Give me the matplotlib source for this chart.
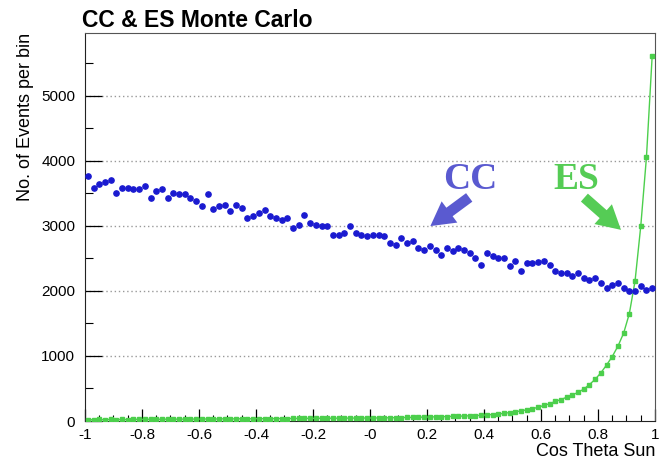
import numpy as np
import matplotlib
matplotlib.use("Agg")
import matplotlib.pyplot as plt
from matplotlib.ticker import MultipleLocator, FixedLocator

plt.rcParams['font.family'] = ['Liberation Sans', 'DejaVu Sans']

# 100 bins in cos(theta_sun), width 0.02
bin_centers = np.round(np.arange(-0.99, 1.0, 0.02), 2)

# charged-current events per bin
cc_counts = [3758, 3580, 3640, 3670, 3700, 3500, 3580, 3580, 3570, 3560,
             3610, 3430, 3530, 3560, 3430, 3500, 3480, 3490, 3430, 3380,
             3300, 3490, 3250, 3300, 3320, 3220, 3323, 3272, 3118, 3144,
             3195, 3246, 3144, 3118, 3092, 3118, 2964, 3015, 3169, 3041,
             3015, 2990, 2990, 2862, 2862, 2887, 2990, 2887, 2862, 2836,
             2862, 2850, 2836, 2733, 2708, 2810, 2733, 2759, 2656, 2631,
             2682, 2631, 2554, 2656, 2605, 2656, 2631, 2580, 2503, 2400,
             2580, 2528, 2503, 2503, 2374, 2451, 2300, 2426, 2426, 2436,
             2451, 2400, 2297, 2272, 2272, 2221, 2272, 2195, 2169, 2195,
             2118, 2041, 2092, 2118, 2041, 1990, 1990, 2067, 2015, 2041]

# elastic-scattering events per bin
es_counts = [22, 20, 24, 21, 25, 23, 24, 22, 26, 25,
             25, 27, 26, 27, 28, 27, 29, 28, 30, 29,
             30, 31, 30, 32, 33, 32, 34, 34, 33, 35,
             36, 35, 37, 37, 38, 38, 39, 40, 40, 41,
             41, 42, 42, 43, 43, 44, 44, 45, 45, 46,
             46, 47, 48, 50, 51, 53, 54, 56, 58, 60,
             62, 64, 66, 69, 71, 74, 77, 80, 84, 88,
             93, 100, 108, 118, 130, 142, 156, 172, 190, 210,
             240, 265, 300, 330, 365, 400, 440, 490, 560, 640,
             740, 860, 990, 1150, 1350, 1650, 2150, 2990, 4050, 5600]

x_major = [-1, -0.8, -0.6, -0.4, -0.2, 0, 0.2, 0.4, 0.6, 0.8, 1]
x_major_labels = ['-1', '-0.8', '-0.6', '-0.4', '-0.2', '-0', '0.2', '0.4', '0.6', '0.8', '1']
y_major = [0, 1000, 2000, 3000, 4000, 5000]

cc_color = '#1a1ad0'
es_color = '#4ccf4c'

fig = plt.figure(figsize=(6.67, 4.65), dpi=100)
ax = fig.add_axes([0.1274, 0.0946, 0.8546, 0.8344])

ax.plot(bin_centers, es_counts, color=es_color, lw=1.0, marker='s', ms=3.2,
        mec=es_color, mfc=es_color, zorder=3)
ax.plot(bin_centers, cc_counts, ls='none', marker='o', ms=3.8,
        mec=cc_color, mfc=cc_color, zorder=4)

ax.set_xlim(-1, 1)
ax.set_ylim(0, 5960)

# ROOT-like axis decorations
ax.xaxis.set_major_locator(FixedLocator(x_major))
ax.set_xticklabels(x_major_labels)
ax.xaxis.set_minor_locator(MultipleLocator(0.05))
ax.yaxis.set_major_locator(FixedLocator(y_major))
ax.yaxis.set_minor_locator(MultipleLocator(500))
ax.tick_params(axis='x', which='major', direction='in', length=8.5, width=0.9, labelsize=11, pad=5)
ax.tick_params(axis='x', which='minor', direction='in', length=4.3, width=0.8)
ax.tick_params(axis='y', which='major', direction='in', length=12, width=0.9, labelsize=11, pad=7)
ax.tick_params(axis='y', which='minor', direction='in', length=6, width=0.8)

for yv in y_major[1:]:
    ax.axhline(yv, color='#999999', lw=1.0, ls=(0, (1, 2)), zorder=1)

for side in ['left', 'bottom']:
    ax.spines[side].set_color('#222222')
for side in ['top', 'right']:
    ax.spines[side].set_color('#555555')

ax.set_xlabel('Cos Theta Sun', fontsize=13, loc='right', labelpad=1)
ax.set_ylabel('No. of Events per bin', fontsize=13, loc='top', labelpad=5)

fig.text(0.123, 0.955, 'CC & ES Monte Carlo', fontsize=16.5, fontweight='bold',
         ha='left', va='center')

# hand-drawn style labels with arrows
arrow_style = 'simple,head_length=0.9,head_width=1.0,tail_width=0.4'
ax.annotate('', xy=(0.204, 2969), xytext=(0.356, 3460),
            arrowprops=dict(arrowstyle=arrow_style, color='#5a5ad0',
                            mutation_scale=19, lw=0))
ax.text(0.351, 3708, 'CC', color='#5a5ad0', fontsize=27, fontweight='bold',
        family='Liberation Serif', ha='center', va='center')
ax.annotate('', xy=(0.888, 2908), xytext=(0.745, 3460),
            arrowprops=dict(arrowstyle=arrow_style, color='#55cc55',
                            mutation_scale=19, lw=0))
ax.text(0.723, 3708, 'ES', color='#55cc55', fontsize=27, fontweight='bold',
        family='Liberation Serif', ha='center', va='center')

fig.savefig('out.png', dpi=100)
